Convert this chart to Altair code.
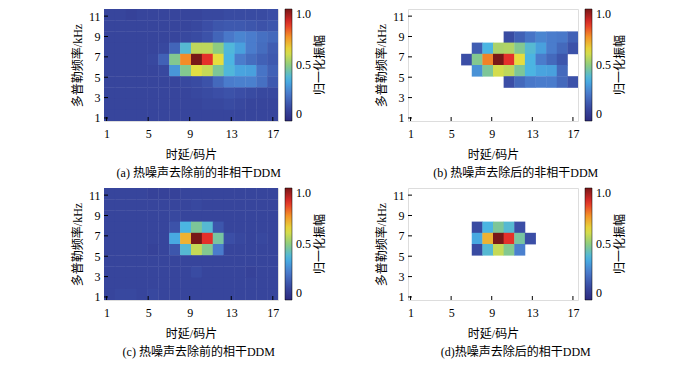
import altair as alt
import pandas as pd

_ = None

# Axis tick values
delay_ticks = [1, 5, 9, 13, 17]
doppler_ticks = [1, 3, 5, 7, 9, 11]
colorbar_ticks = [0, 0.5, 1.0]

# DDM amplitudes: 10 Doppler rows listed from top (high Doppler) to bottom, 16 delay bins each
ddm_a = [
    [0.10, 0.10, 0.09, 0.10, 0.10, 0.10, 0.10, 0.10, 0.10, 0.11, 0.11, 0.12, 0.12, 0.12, 0.12, 0.13],
    [0.10, 0.10, 0.10, 0.10, 0.10, 0.10, 0.10, 0.10, 0.11, 0.13, 0.15, 0.16, 0.16, 0.15, 0.14, 0.15],
    [0.10, 0.10, 0.10, 0.10, 0.10, 0.10, 0.10, 0.11, 0.12, 0.14, 0.19, 0.24, 0.27, 0.25, 0.22, 0.20],
    [0.10, 0.10, 0.10, 0.10, 0.10, 0.11, 0.19, 0.40, 0.57, 0.57, 0.50, 0.39, 0.33, 0.25, 0.21, 0.17],
    [0.10, 0.10, 0.10, 0.10, 0.11, 0.18, 0.48, 0.76, 1.00, 0.87, 0.63, 0.38, 0.25, 0.21, 0.18, 0.16],
    [0.10, 0.10, 0.10, 0.10, 0.10, 0.11, 0.31, 0.48, 0.62, 0.58, 0.47, 0.39, 0.34, 0.33, 0.23, 0.18],
    [0.10, 0.10, 0.10, 0.10, 0.10, 0.10, 0.10, 0.11, 0.12, 0.14, 0.20, 0.25, 0.26, 0.26, 0.22, 0.16],
    [0.10, 0.10, 0.10, 0.10, 0.10, 0.10, 0.10, 0.10, 0.11, 0.12, 0.13, 0.14, 0.13, 0.12, 0.11, 0.11],
    [0.10, 0.10, 0.10, 0.10, 0.10, 0.10, 0.10, 0.10, 0.10, 0.11, 0.11, 0.12, 0.11, 0.10, 0.10, 0.10],
    [0.10, 0.10, 0.10, 0.10, 0.10, 0.10, 0.10, 0.10, 0.10, 0.10, 0.10, 0.10, 0.10, 0.10, 0.10, 0.10],
]

ddm_b = [
    [_, _, _, _, _, _, _, _, _, _, _, _, _, _, _, _],
    [_, _, _, _, _, _, _, _, _, _, _, _, _, _, _, _],
    [_, _, _, _, _, _, _, _, _, 0.12, 0.18, 0.23, 0.27, 0.25, 0.24, 0.18],
    [_, _, _, _, _, _, 0.17, 0.38, 0.54, 0.55, 0.48, 0.40, 0.33, 0.25, 0.20, 0.14],
    [_, _, _, _, _, 0.13, 0.48, 0.77, 1.00, 0.87, 0.63, 0.38, 0.25, 0.20, 0.15, _],
    [_, _, _, _, _, _, 0.30, 0.47, 0.60, 0.57, 0.47, 0.38, 0.34, 0.33, 0.20, _],
    [_, _, _, _, _, _, _, _, _, 0.13, 0.20, 0.24, 0.25, 0.25, 0.20, 0.14],
    [_, _, _, _, _, _, _, _, _, _, _, _, _, _, _, _],
    [_, _, _, _, _, _, _, _, _, _, _, _, _, _, _, _],
    [_, _, _, _, _, _, _, _, _, _, _, _, _, _, _, _],
]

ddm_c = [
    [0.10, 0.10, 0.10, 0.10, 0.09, 0.09, 0.09, 0.10, 0.10, 0.10, 0.10, 0.10, 0.10, 0.10, 0.10, 0.10],
    [0.10, 0.10, 0.10, 0.10, 0.10, 0.10, 0.10, 0.10, 0.11, 0.10, 0.10, 0.10, 0.10, 0.10, 0.10, 0.10],
    [0.10, 0.10, 0.10, 0.10, 0.10, 0.10, 0.11, 0.10, 0.10, 0.10, 0.10, 0.10, 0.10, 0.10, 0.10, 0.10],
    [0.10, 0.10, 0.10, 0.10, 0.10, 0.10, 0.14, 0.38, 0.47, 0.40, 0.15, 0.10, 0.10, 0.10, 0.10, 0.10],
    [0.10, 0.10, 0.10, 0.10, 0.10, 0.10, 0.35, 0.70, 1.00, 0.87, 0.46, 0.13, 0.11, 0.10, 0.11, 0.10],
    [0.10, 0.10, 0.10, 0.10, 0.09, 0.10, 0.15, 0.40, 0.58, 0.48, 0.25, 0.10, 0.10, 0.10, 0.10, 0.10],
    [0.10, 0.10, 0.10, 0.10, 0.10, 0.10, 0.10, 0.10, 0.10, 0.10, 0.10, 0.10, 0.10, 0.10, 0.10, 0.10],
    [0.10, 0.10, 0.10, 0.10, 0.10, 0.10, 0.10, 0.10, 0.12, 0.10, 0.10, 0.10, 0.10, 0.09, 0.10, 0.10],
    [0.10, 0.10, 0.10, 0.10, 0.10, 0.10, 0.10, 0.10, 0.10, 0.10, 0.10, 0.10, 0.10, 0.10, 0.10, 0.10],
    [0.10, 0.11, 0.11, 0.10, 0.11, 0.10, 0.10, 0.10, 0.10, 0.10, 0.10, 0.10, 0.10, 0.10, 0.10, 0.10],
]

ddm_d = [
    [_, _, _, _, _, _, _, _, _, _, _, _, _, _, _, _],
    [_, _, _, _, _, _, _, _, _, _, _, _, _, _, _, _],
    [_, _, _, _, _, _, _, _, _, _, _, _, _, _, _, _],
    [_, _, _, _, _, _, 0.12, 0.38, 0.47, 0.40, 0.13, _, _, _, _, _],
    [_, _, _, _, _, _, 0.35, 0.70, 1.00, 0.87, 0.46, 0.13, _, _, _, _],
    [_, _, _, _, _, _, 0.12, 0.40, 0.58, 0.48, 0.26, _, _, _, _, _],
    [_, _, _, _, _, _, _, _, _, _, _, _, _, _, _, _],
    [_, _, _, _, _, _, _, _, _, _, _, _, _, _, _, _],
    [_, _, _, _, _, _, _, _, _, _, _, _, _, _, _, _],
    [_, _, _, _, _, _, _, _, _, _, _, _, _, _, _, _],
]

captions = [
    "(a) 热噪声去除前的非相干DDM",
    "(b) 热噪声去除后的非相干DDM",
    "(c) 热噪声去除前的相干DDM",
    "(d)热噪声去除后的相干DDM",
]

# jet-like colormap stops
cmap_stops = [0, 0.125, 0.25, 0.375, 0.5, 0.625, 0.75, 0.875, 1.0]
cmap_colors = ["#2c2a7e", "#3a4ca4", "#4a7ccc", "#48b4e6", "#8ecc80",
               "#e4e040", "#f39428", "#e32c2a", "#781818"]

# grid of the DDM bins (delay in chips, Doppler in kHz)
DELAY0, DELAY_W, N_DELAY = 0.75, 1.046875, 16
DOP0, DOP_H = 0.7, 1.1
X_DOMAIN = [DELAY0, DELAY0 + N_DELAY * DELAY_W]
Y_DOMAIN = [DOP0, DOP0 + 10 * DOP_H]
SEAM = 0.04  # tiny overlap between neighbouring cells to hide anti-aliasing seams

LATIN = "Liberation Serif"
MIXED = "Liberation Serif, Noto Sans CJK SC"


def to_frame(rows):
    recs = []
    n = len(rows)
    for k, row in enumerate(rows):
        j = n - 1 - k
        for i, v in enumerate(row):
            if v is None:
                continue
            recs.append(dict(x0=DELAY0 + i * DELAY_W, x1=DELAY0 + (i + 1) * DELAY_W + SEAM,
                             y0=DOP0 + j * DOP_H - SEAM, y1=DOP0 + (j + 1) * DOP_H, v=v))
    return pd.DataFrame(recs)


def panel(rows, caption, w, h, cap_dx=0):
    df = to_frame(rows)
    xs = alt.Scale(domain=X_DOMAIN, nice=False, zero=False)
    ys = alt.Scale(domain=Y_DOMAIN, nice=False, zero=False)
    cs = alt.Scale(domain=cmap_stops, range=cmap_colors, interpolate="rgb")
    xaxis = alt.Axis(values=delay_ticks, title="时延/码片", ticks=False, domain=False, grid=False,
                     labelFont=LATIN, labelFontSize=12, labelColor="black", labelPadding=7,
                     labelFlush=False, labelOverlap=False,
                     titleFont=MIXED, titleFontSize=12, titleFontWeight="normal",
                     titleColor="black", titlePadding=10)
    yaxis = alt.Axis(values=doppler_ticks, title="多普勒频率/kHz", ticks=False, domain=False, grid=False,
                     labelFont=LATIN, labelFontSize=12, labelColor="black", labelPadding=4,
                     labelFlush=False, labelOverlap=False,
                     titleFont=MIXED, titleFontSize=12, titleFontWeight="normal",
                     titleColor="black", titlePadding=4)
    legend = alt.Legend(title=None, orient="right", offset=7, direction="vertical",
                        gradientLength=h, gradientThickness=7,
                        gradientStrokeColor="black", gradientStrokeWidth=0.5,
                        values=colorbar_ticks,
                        labelExpr="datum.value == 0 ? '0' : format(datum.value, '.1f')",
                        labelFont=LATIN, labelFontSize=12, labelColor="black", labelOffset=4)
    heat = alt.Chart(df).mark_rect(clip=True).encode(
        x=alt.X("x0:Q", scale=xs, axis=xaxis),
        x2="x1:Q",
        y=alt.Y("y0:Q", scale=ys, axis=yaxis),
        y2="y1:Q",
        color=alt.Color("v:Q", scale=cs, legend=legend),
    )
    xt = alt.Chart(pd.DataFrame({"t": delay_ticks})).mark_rule(color="black", strokeWidth=1).encode(
        x=alt.X("t:Q", scale=xs, axis=xaxis),
        y=alt.value(h), y2=alt.value(h - 4),
    )
    yt = alt.Chart(pd.DataFrame({"t": doppler_ticks})).mark_rule(color="black", strokeWidth=1).encode(
        y=alt.Y("t:Q", scale=ys, axis=yaxis),
        x=alt.value(0), x2=alt.value(4),
    )
    cbt = alt.Chart(pd.DataFrame({"t": ["归一化振幅"]})).mark_text(
        angle=270, font=MIXED, fontSize=12, color="black"
    ).encode(text="t:N", x=alt.value(w + 42), y=alt.value(h / 2))
    return alt.layer(heat, xt, yt, cbt).properties(
        width=w, height=h,
        title=alt.TitleParams(text=caption, orient="bottom", anchor="middle", frame="bounds",
                              font=MIXED, fontSize=12, fontWeight="normal", color="black",
                              offset=8, dx=cap_dx),
    )


pa = panel(ddm_a, captions[0], 174, 112)
pb = panel(ddm_b, captions[1], 170, 112, cap_dx=15)
pc = panel(ddm_c, captions[2], 174, 112)
pd_ = panel(ddm_d, captions[3], 170, 112, cap_dx=15)

chart = alt.concat(pa, pb, pc, pd_, columns=2, spacing={"row": 67, "column": 130}, bounds="flush").resolve_scale(
    color="independent"
).resolve_legend(color="independent").properties(
    padding={"left": 62, "top": 0, "right": 0, "bottom": 0}
).configure_view(stroke="black", strokeWidth=1).configure(background="white")

chart.save("out.html", embed_options={"renderer": "svg", "actions": False})
